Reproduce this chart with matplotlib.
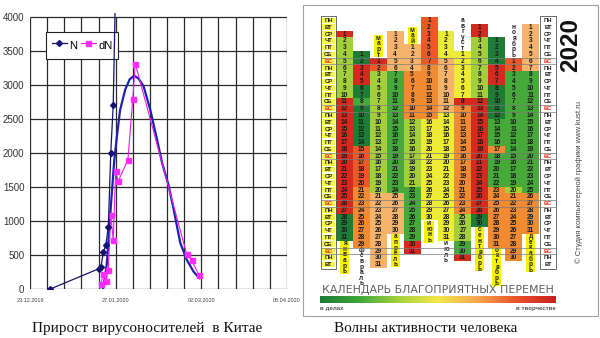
import datetime as dt
import calendar as pycal

import numpy as np
import matplotlib
matplotlib.use("Agg")
import matplotlib.pyplot as plt
import matplotlib.dates as mdates
from matplotlib.patches import Rectangle
from matplotlib.colors import LinearSegmentedColormap

# ---------------------------------------------------------------- data
# cumulative carriers N
n_dates = ["2019-12-31", "2020-01-20", "2020-01-21", "2020-01-22", "2020-01-23",
           "2020-01-24", "2020-01-25", "2020-01-26", "2020-01-27"]
n_values = [0, 300, 330, 553, 650, 921, 2000, 2710, 4515]

# daily increment dN
dn_dates = ["2020-01-21", "2020-01-22", "2020-01-23", "2020-01-24", "2020-01-25",
            "2020-01-26", "2020-01-27", "2020-01-28", "2020-02-01", "2020-02-03",
            "2020-02-04", "2020-02-25", "2020-02-27", "2020-03-01"]
dn_values = [80, 230, 120, 290, 1093, 725, 1730, 1583, 1900, 2794, 3313, 519, 431, 210]

# smoothed trend of dN (days after 23.12.2019)
trend_days = [29.8, 30.5, 31.4, 32.3, 33.4, 34.4, 35.5, 36.8, 38.9, 40.7, 42.6,
              44.4, 46.4, 49.1, 51.9, 54.0, 56.6, 58.7, 61.4, 64.1, 66.8, 69.3]
trend_values = [0, 150, 380, 850, 1400, 1880, 2240, 2630, 2930, 3080, 3135,
                3090, 2980, 2640, 2200, 1850, 1530, 1170, 680, 430, 260, 160]

axis_start = "2019-12-23"
axis_end = "2020-04-06"
y_ticks = [0, 500, 1000, 1500, 2000, 2500, 3000, 3500, 4000]

# calendar of favourable changes, 2020: colour runs (tone, number of days)
YEAR = 2020
month_runs = [
    [("R", 1), ("L", 9), ("R", 17), ("D", 4)],                                  # январь
    [("D", 2), ("R", 3), ("D", 2), ("G", 1), ("D", 6), ("E", 6), ("O", 9)],    # февраль
    [("R", 1), ("E", 1), ("L", 18), ("P", 11)],                                 # март
    [("P", 6), ("G", 18), ("P", 6)],                                            # апрель
    [("P", 4), ("O", 7), ("L", 10), ("G", 8), ("R", 2)],                        # май
    [("E", 7), ("O", 8), ("Y", 15)],                                            # июнь
    [("Y", 4), ("P", 8), ("Y", 19)],                                            # июль
    [("Y", 7), ("R", 1), ("O", 16), ("L", 4), ("G", 2), ("R", 1)],             # август
    [("R", 2), ("L", 9), ("R", 17), ("D", 2)],                                  # сентябрь
    [("D", 4), ("R", 3), ("D", 5), ("G", 4), ("O", 1), ("G", 5), ("O", 9)],    # октябрь
    [("E", 2), ("G", 17), ("L", 1), ("O", 10)],                                 # ноябрь
    [("P", 7), ("G", 18), ("O", 6)],                                            # декабрь
]
tone_colors = {"D": "#1f7c35", "G": "#46a939", "L": "#a4cf3d", "Y": "#ebeb38",
               "P": "#f6b36c", "O": "#f08a33", "E": "#ea5a27", "R": "#d42a1f"}
weekday_labels = ["ПН", "ВТ", "СР", "ЧТ", "ПТ", "СБ", "ВС"]
month_names = ["январь", "февраль", "март", "апрель", "май", "июнь", "июль",
               "август", "сентябрь", "октябрь", "ноябрь", "декабрь"]
label_side = ["bottom", "bottom", "top", "bottom", "top", "bottom", "bottom",
              "top", "bottom", "bottom", "top", "bottom"]
label_boxed = [True, False, True, True, True, True, False, False, True, True, False, True]
gradient_colors = ["#1c7a36", "#3fa83a", "#a6d03c", "#f3e84a", "#f6a64e", "#e9512a", "#c91f1f"]

# ---------------------------------------------------------------- figure
W, H = 600, 338
fig = plt.figure(figsize=(W / 100, H / 100), dpi=100)
fig.patch.set_facecolor("white")

SANS = ["Liberation Sans", "DejaVu Sans"]

# ---- left: growth of carriers in China
ax = fig.add_axes([30 / W, 1 - 289.3 / H, 257 / W, (289.3 - 13) / H])
x0 = mdates.datestr2num(axis_start)
x1 = mdates.datestr2num(axis_end)
ax.set_xlim(x0, x1)
ax.set_ylim(0, 4000 * 276.3 / 272.6)
for sp in ax.spines.values():
    sp.set_visible(False)
ax.set_facecolor("none")

ax.vlines(np.arange(x0, x1 + 1, 7), 0, y_ticks[-1], colors="#2a2a2a", lw=0.9, zorder=1)
ax.hlines(y_ticks, x0, x1, colors="#2a2a2a", lw=0.9, zorder=1)

ax.set_yticks(y_ticks)
ax.set_xticks(np.arange(x0, x1 + 1, 35))
ax.xaxis.set_major_formatter(mdates.DateFormatter("%d.%m.%Y"))
ax.tick_params(length=0)
ax.tick_params(axis="y", labelsize=7, pad=4, labelcolor="#333333")
ax.tick_params(axis="x", labelsize=4, pad=6, labelcolor="#444444")
for lab in ax.get_yticklabels() + ax.get_xticklabels():
    lab.set_family(SANS)

trend_x = x0 + np.array(trend_days)
ax.plot(trend_x, trend_values, color="#1f1fb4", lw=1.6, zorder=3,
        solid_capstyle="round")
(dn_line,) = ax.plot(mdates.datestr2num(dn_dates), dn_values, color="#e81ce8", lw=0.8,
                     marker="s", ms=3.6, mfc="#ff2cff", mec="#ff2cff", zorder=4, label="dN")
(n_line,) = ax.plot(mdates.datestr2num(n_dates), n_values, color="#14146e", lw=0.9,
                    marker="D", ms=3.0, mfc="#14146e", mec="#14146e", zorder=5, label="N")

leg = ax.legend(handles=[n_line, dn_line], loc="upper left",
                bbox_to_anchor=(16 / 257, (289.3 - 32) / 276.3), borderaxespad=0,
                ncol=2, handlelength=1.4, handleheight=1.8, handletextpad=0.2,
                columnspacing=0.3, borderpad=0.5, fancybox=False, framealpha=1,
                prop={"family": SANS, "size": 8})
leg.get_frame().set_edgecolor("#222222")
leg.get_frame().set_linewidth(0.8)
leg.set_zorder(2)

# ---- right: calendar of favourable changes
cal = fig.add_axes([0, 0, 1, 1])
cal.set_xlim(0, W)
cal.set_ylim(H, 0)
cal.axis("off")

cal.add_patch(Rectangle((303, 5), 295, 311, fill=False, edgecolor="#a0a0a0", lw=0.8))

gx0, gy0 = 336.0, 17.0
cw, rh = 16.92, 6.78
n_rows = 37
BOLD = dict(fontweight="bold", family=SANS)

month_first_row = []
month_last_row = []
for m, runs in enumerate(month_runs):
    tones = "".join(t * c for t, c in runs)
    first = dt.date(YEAR, m + 1, 1).weekday()
    ndays = pycal.monthrange(YEAR, m + 1)[1]
    assert len(tones) == ndays, (m, len(tones))
    month_first_row.append(first)
    month_last_row.append(first + ndays - 1)
    x = gx0 + m * cw
    for d in range(1, ndays + 1):
        y = gy0 + (first + d - 1) * rh
        cal.add_patch(Rectangle((x, y), cw, rh, facecolor=tone_colors[tones[d - 1]],
                                edgecolor="none", zorder=2))
        cal.text(x + cw / 2, y + rh / 2 + 0.2, str(d), ha="center", va="center",
                 fontsize=4.7, color="#1a1a1a", zorder=5, **BOLD)

# weekday columns
for r in range(n_rows):
    name = weekday_labels[r % 7]
    y = gy0 + r * rh
    tcol = "#e2321c" if name == "ВС" else "#222222"
    cal.add_patch(Rectangle((322.0, y + 0.6), 13.0, rh - 1.2, facecolor="#f8f64e",
                            edgecolor="none", zorder=2))
    cal.text(328.5, y + rh / 2 + 0.2, name, ha="center", va="center", fontsize=4.2,
             color=tcol, zorder=5, **BOLD)
    cal.text(548.0, y + rh / 2 + 0.2, name, ha="center", va="center", fontsize=4.2,
             color=tcol, zorder=5, **BOLD)
for xl, wl in ((321.0, 15.0), (540.0, 16.0)):
    cal.add_patch(Rectangle((xl, gy0 - 1), wl, n_rows * rh + 2, fill=False,
                            edgecolor="#555555", lw=0.6, zorder=6))

# lines around every Sunday row
for r in range(6, n_rows, 7):
    for yy in (gy0 + r * rh, gy0 + (r + 1) * rh):
        cal.plot([321, 556], [yy, yy], color="#7c7c7c", lw=0.5, zorder=6)

# month names, written vertically one letter per line
spacing = 5.3
for m, word in enumerate(month_names):
    xc = gx0 + m * cw + cw / 2
    k = len(word)
    if label_side[m] == "top":
        c_last = gy0 + month_first_row[m] * rh - 3.4
        c_first = c_last - spacing * (k - 1)
    else:
        c_first = gy0 + (month_last_row[m] + 1) * rh + 3.4
        c_last = c_first + spacing * (k - 1)
    if label_boxed[m]:
        cal.add_patch(Rectangle((xc - 4.6, c_first - 3.2), 9.2, c_last - c_first + 6.4,
                                facecolor="#f6f200", edgecolor="none", zorder=3))
    cal.text(xc, (c_first + c_last) / 2 + 0.3, "\n".join(word), ha="center",
             va="center", ma="center", fontsize=4.7, linespacing=0.72,
             color="#222222", zorder=5, **BOLD)

cal.text(571, 45, "2020", rotation=90, ha="center", va="center", fontsize=17.5,
         color="#111111", **BOLD)
cal.text(579, 182, "© Студия компьютерной графики www.kust.ru", rotation=90,
         ha="center", va="center", fontsize=5.5, color="#444444", family=SANS)

cal.text(438, 290, "КАЛЕНДАРЬ БЛАГОПРИЯТНЫХ ПЕРЕМЕН", ha="center", va="center",
         fontsize=7.9, color="#606060", family="DejaVu Sans")
grad = LinearSegmentedColormap.from_list("changes", gradient_colors)
cal.imshow(np.linspace(0, 1, 256)[None, :], extent=(320, 556, 303.5, 296.5),
           cmap=grad, aspect="auto", zorder=2)
cal.text(320, 308.6, "в делах", ha="left", va="center", fontsize=4.4,
         color="#555555", **BOLD)
cal.text(556, 308.6, "в творчестве", ha="right", va="center", fontsize=4.4,
         color="#555555", **BOLD)

cal.set_xlim(0, W)
cal.set_ylim(H, 0)

# captions
SERIF = ["Liberation Serif", "DejaVu Serif"]
cal.text(147, 332, "Прирост вирусоносителей  в Китае", ha="center", va="baseline",
         fontsize=11, color="#111111", family=SERIF)
cal.text(426, 332, "Волны активности человека", ha="center", va="baseline",
         fontsize=11, color="#111111", family=SERIF)

fig.savefig("out.png", dpi=100)
